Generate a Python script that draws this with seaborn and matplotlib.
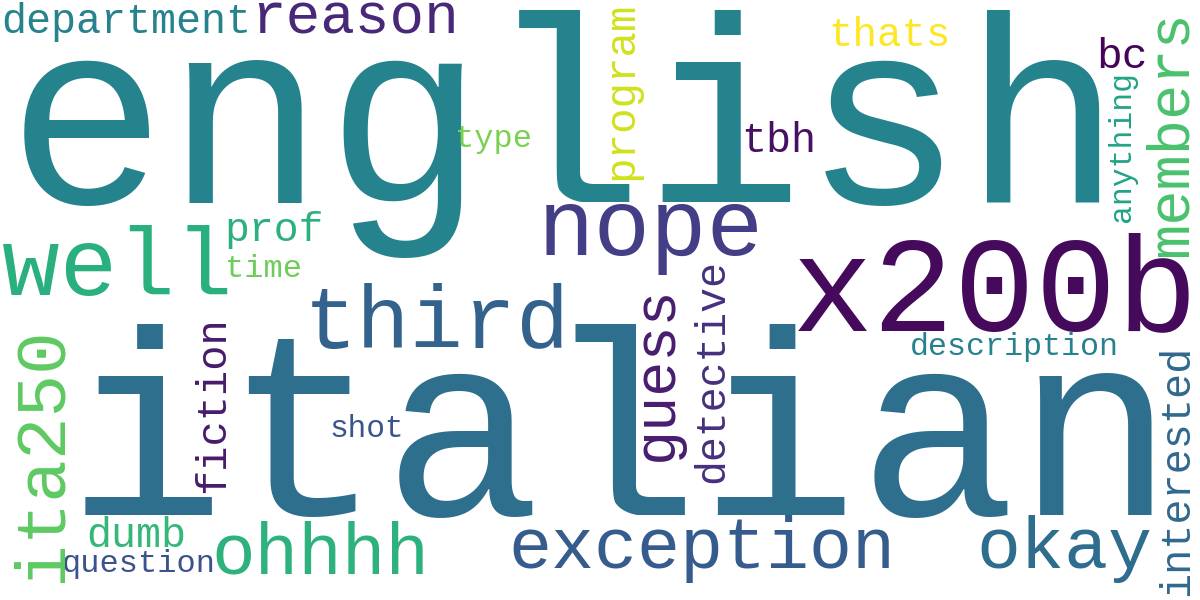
import matplotlib
matplotlib.use("Agg")
import matplotlib.pyplot as plt
import seaborn as sns

sns.set_theme(style="white")
plt.rcParams['font.family'] = ['Liberation Mono', 'DejaVu Sans Mono']

# words of the cloud and their colours (viridis)
words = ["english", "italian", "x200b", "nope", "third", "well", "reason",
         "department", "prof", "time", "type", "thats", "bc", "tbh",
         "exception", "okay", "ohhhh", "dumb", "question", "shot", "description",
         "ita250", "fiction", "guess", "detective", "program", "members",
         "anything", "interested"]
colors = ["#25838e", "#2e6f8e", "#460a5d", "#433e85", "#33638d", "#2ab07f", "#482878",
          "#26838e", "#2cb17e", "#6ccd5a", "#7ad151", "#fde725", "#450457", "#471063",
          "#365c8d", "#2e6d8e", "#2db27d", "#35b779", "#3b528b", "#3a548c", "#26828e",
          "#5ec962", "#481a6c", "#481d6f", "#46307e", "#d0e11c", "#4ac16d",
          "#20a386", "#31688e"]
vertical = [False] * 21 + [True] * 8

# layout: ink start / end along the reading direction and baseline (pixels)
span_a = [26, 86, 802, 545, 310, 9, 256,
          4, 228, 228, 457, 832, 1100, 744,
          513, 982, 217, 89, 64, 332, 912,
          577, 490, 457, 480, 177, 253, 220, 593]
span_b = [1103, 1155, 1188, 757, 563, 225, 455,
          248, 321, 300, 529, 948, 1145, 813,
          890, 1147, 424, 183, 213, 402, 1117,
          332, 320, 290, 262, 5, 15, 74, 348]
baseline = [203, 515, 330, 255, 348, 295, 33,
            33, 241, 277, 147, 46, 68, 152,
            568, 568, 573, 547, 572, 437, 355,
            60, 224, 672, 723, 632, 1187, 1130, 1188]

W, H = 1200, 600

fig = plt.figure(figsize=(12, 6), dpi=100)
fig.patch.set_facecolor("white")
ax = fig.add_axes([0, 0, 1, 1])
ax.set_xlim(0, W)
ax.set_ylim(H, 0)
ax.axis('off')

for w, c, a, b, bl, vert in zip(words, colors, span_a, span_b, baseline, vertical):
    # monospace cell is 0.6 em, minus the side bearings of the outer glyphs
    em_px = abs(b - a) / (0.6 * len(w) - 0.15)
    fs = em_px * 72 / 100
    mid = (a + b) / 2
    if not vert:
        ax.text(mid, bl, w, fontsize=fs, color=c, ha='center', va='baseline')
    else:
        ax.text(bl, mid, w, fontsize=fs, color=c, rotation=90,
                rotation_mode='anchor', ha='center', va='baseline')

fig.savefig("out.png", dpi=100, facecolor="white")
